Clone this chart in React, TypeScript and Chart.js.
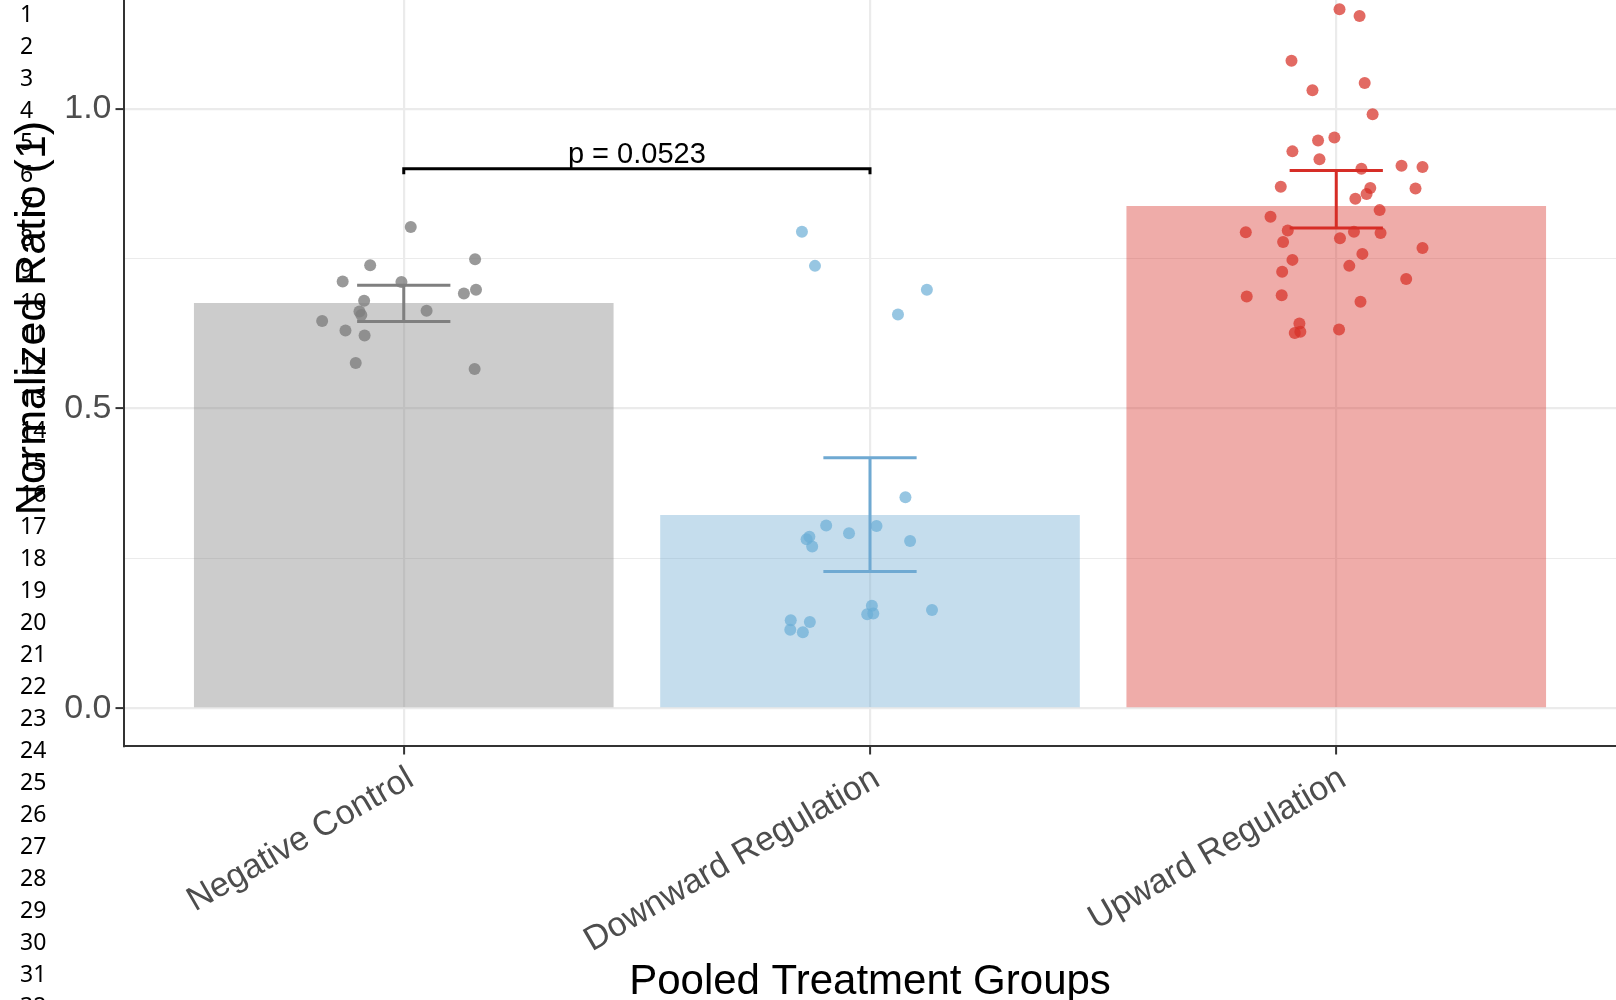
import React, { useEffect, useRef } from "react";
import { Chart, registerables } from "chart.js";

Chart.register(...registerables);

// Treatment groups (x positions 1, 2, 3 on a linear axis)
const groups = ["Negative Control", "Downward Regulation", "Upward Regulation"];
const groupMeans = [0.676, 0.3224, 0.838];
const errLow = [0.645, 0.228, 0.801];
const errHigh = [0.7056, 0.418, 0.897];

// Individual jittered observations per group
const negativeX = [1.015, 1.153, 0.928, 0.869, 0.995, 1.155, 1.129, 0.915, 0.905, 0.909, 1.049, 0.825, 0.875, 0.916, 0.897, 1.152];
const negativeY = [0.803, 0.749, 0.739, 0.712, 0.711, 0.698, 0.692, 0.68, 0.662, 0.656, 0.663, 0.646, 0.63, 0.622, 0.576, 0.566];

const downX = [1.854, 1.882, 2.122, 2.06, 2.076, 1.906, 2.014, 1.955, 1.87, 1.864, 2.086, 1.876, 2.004, 1.994, 2.007, 2.133, 1.83, 1.871, 1.829, 1.856];
const downY = [0.795, 0.738, 0.698, 0.657, 0.352, 0.305, 0.304, 0.292, 0.286, 0.282, 0.279, 0.27, 0.171, 0.157, 0.158, 0.164, 0.147, 0.144, 0.131, 0.127];

const upX = [3.007, 3.05, 2.904, 3.061, 2.949, 3.078, 2.996, 2.961, 2.906, 2.964, 3.14, 3.185, 3.054, 2.881, 3.17, 3.073, 3.065, 3.041, 3.093, 2.859, 2.806, 2.896, 2.886, 3.008, 3.038, 3.095, 3.185, 3.056, 2.906, 3.028, 2.884, 3.15, 2.808, 2.883, 3.052, 2.921, 2.911, 2.923, 3.006];
const upY = [1.166, 1.155, 1.08, 1.043, 1.031, 0.991, 0.952, 0.947, 0.929, 0.916, 0.905, 0.903, 0.9, 0.87, 0.867, 0.868, 0.858, 0.85, 0.831, 0.82, 0.794, 0.797, 0.778, 0.784, 0.795, 0.793, 0.768, 0.758, 0.748, 0.738, 0.728, 0.716, 0.687, 0.689, 0.678, 0.642, 0.626, 0.628, 0.632];

// Y axis ticks: majors labelled, minors only as grid lines
const yTicks = [0, 0.25, 0.5, 0.75, 1.0];
const yTickLabels = ["0.0", "", "0.5", "", "1.0"];
const xTicks = [1, 2, 3];

// Significance bracket between the first two groups
const bracketFrom = 1;
const bracketTo = 2;
const bracketY = 0.9;
const pLabel = "p = 0.0523";

const xTitle = "Pooled Treatment Groups";
const yTitle = "Normalized Ratio (1)";

const lineNumbers = [1, 2, 3, 4, 5, 6, 7, 8, 9, 10, 11, 12, 13, 14, 15, 16, 17, 18, 19, 20, 21, 22, 23, 24, 25, 26, 27, 28, 29, 30, 31, 32];

const barFill = ["rgba(127,127,127,0.4)", "rgba(110,170,210,0.4)", "rgba(215,48,39,0.4)"];
const pointFill = ["rgba(128,128,128,0.8)", "rgba(107,174,214,0.7)", "rgba(215,48,39,0.72)"];
const errColor = ["#7f7f7f", "#6fa9d2", "#d62d26"];

const FONT = '"Liberation Sans", Arial, Helvetica, sans-serif';

const overlayPlugin = {
  id: "overlay",
  afterDatasetsDraw(chart: any) {
    const { ctx, chartArea } = chart;
    const x = chart.scales.x;
    const y = chart.scales.y;
    ctx.save();

    // error bars
    groups.forEach((_, i) => {
      const cx = x.getPixelForValue(i + 1);
      const half = x.getPixelForValue(i + 1.1) - cx;
      const top = y.getPixelForValue(errHigh[i]);
      const bot = y.getPixelForValue(errLow[i]);
      ctx.strokeStyle = errColor[i];
      ctx.lineWidth = 3;
      ctx.lineCap = "butt";
      ctx.beginPath();
      ctx.moveTo(cx, top);
      ctx.lineTo(cx, bot);
      ctx.moveTo(cx - half, top);
      ctx.lineTo(cx + half, top);
      ctx.moveTo(cx - half, bot);
      ctx.lineTo(cx + half, bot);
      ctx.stroke();
    });

    // significance bracket
    const x1 = x.getPixelForValue(bracketFrom);
    const x2 = x.getPixelForValue(bracketTo);
    const yb = y.getPixelForValue(bracketY);
    const yt = y.getPixelForValue(bracketY - 0.009);
    ctx.strokeStyle = "#000000";
    ctx.lineWidth = 3;
    ctx.lineJoin = "miter";
    ctx.beginPath();
    ctx.moveTo(x1, yt);
    ctx.lineTo(x1, yb);
    ctx.lineTo(x2, yb);
    ctx.lineTo(x2, yt);
    ctx.stroke();
    ctx.fillStyle = "#000000";
    ctx.font = `29px ${FONT}`;
    ctx.textAlign = "center";
    ctx.textBaseline = "alphabetic";
    ctx.fillText(pLabel, (x1 + x2) / 2, yb - 6);

    // axis titles
    ctx.font = `42px ${FONT}`;
    ctx.fillText(xTitle, (chartArea.left + chartArea.right) / 2, 994);
    ctx.translate(45, 318);
    ctx.rotate(-Math.PI / 2);
    ctx.font = `43px ${FONT}`;
    ctx.fillText(yTitle, 0, 0);
    ctx.restore();
  },
};

export default function App() {
  const canvasRef = useRef<HTMLCanvasElement | null>(null);

  useEffect(() => {
    const canvas = canvasRef.current;
    if (!canvas) return;

    const scatter = (xs: number[], ys: number[], i: number) => ({
      type: "scatter" as const,
      data: xs.map((xv, k) => ({ x: xv, y: ys[k] })),
      pointRadius: 6,
      pointHoverRadius: 6,
      pointBackgroundColor: pointFill[i],
      pointBorderWidth: 0,
      borderWidth: 0,
      order: 1,
    });

    const chart = new Chart(canvas, {
      type: "bar",
      data: {
        datasets: [
          scatter(negativeX, negativeY, 0) as any,
          scatter(downX, downY, 1) as any,
          scatter(upX, upY, 2) as any,
          {
            type: "bar",
            data: groupMeans.map((m, i) => ({ x: i + 1, y: m })),
            backgroundColor: barFill,
            borderWidth: 0,
            barPercentage: 0.9,
            categoryPercentage: 1,
            order: 3,
          } as any,
        ],
      },
      options: {
        responsive: false,
        animation: false,
        devicePixelRatio: 1,
        events: [],
        layout: { padding: 0, autoPadding: false },
        plugins: { legend: { display: false }, tooltip: { enabled: false } },
        scales: {
          x: {
            type: "linear",
            min: 0.4,
            max: 3.6,
            offset: false,
            afterBuildTicks: (scale: any) => {
              scale.ticks = xTicks.map((v) => ({ value: v }));
            },
            afterFit: (scale: any) => {
              scale.height = 254;
              scale.paddingLeft = 0;
              scale.paddingRight = 0;
            },
            ticks: {
              autoSkip: false,
              minRotation: 30,
              maxRotation: 30,
              padding: 4,
              labelOffset: 7,
              color: "#4d4d4d",
              font: { family: FONT, size: 34.2 },
              callback: (_v: any, i: number) => groups[i],
            },
            grid: {
              offset: false,
              color: "#ebebeb",
              lineWidth: 2.2,
              tickColor: "#333333",
              tickWidth: 2,
              tickLength: 8.5,
            },
            border: { display: true, color: "#333333", width: 2 },
          },
          y: {
            type: "linear",
            min: -0.0629,
            max: 1.1815,
            bounds: "data",
            afterBuildTicks: (scale: any) => {
              scale.ticks = yTicks.map((v) => ({ value: v }));
            },
            afterFit: (scale: any) => {
              scale.width = 124;
              scale.paddingTop = 0;
              scale.paddingBottom = 0;
            },
            ticks: {
              padding: 4,
              color: "#4d4d4d",
              font: { family: FONT, size: 34 },
              callback: (_v: any, i: number) => yTickLabels[i],
            },
            grid: {
              color: "#ebebeb",
              lineWidth: (c: any) => (yTickLabels[c.index] ? 2.2 : 1.1),
              tickColor: (c: any) => (yTickLabels[c.index] ? "#333333" : "rgba(0,0,0,0)"),
              tickWidth: 2,
              tickLength: 8.5,
            },
            border: { display: true, color: "#333333", width: 2 },
          },
        },
      } as any,
      plugins: [overlayPlugin],
    });

    return () => chart.destroy();
  }, []);

  return (
    <div style={{ position: "absolute", left: 0, top: 0, width: 1616, height: 1000, overflow: "hidden", background: "#ffffff" }}>
      <canvas ref={canvasRef} width={1616} height={1000} style={{ position: "absolute", left: 0, top: 0, width: 1616, height: 1000 }} />
      {lineNumbers.map((n, i) => (
        <div
          key={n}
          style={{
            position: "absolute",
            left: 20,
            top: i * 32 - 3,
            height: 32,
            lineHeight: "32px",
            fontSize: 23,
            fontFamily: '"Noto Sans", sans-serif',
            color: "#000000",
            whiteSpace: "nowrap",
          }}
        >
          {n}
        </div>
      ))}
    </div>
  );
}
